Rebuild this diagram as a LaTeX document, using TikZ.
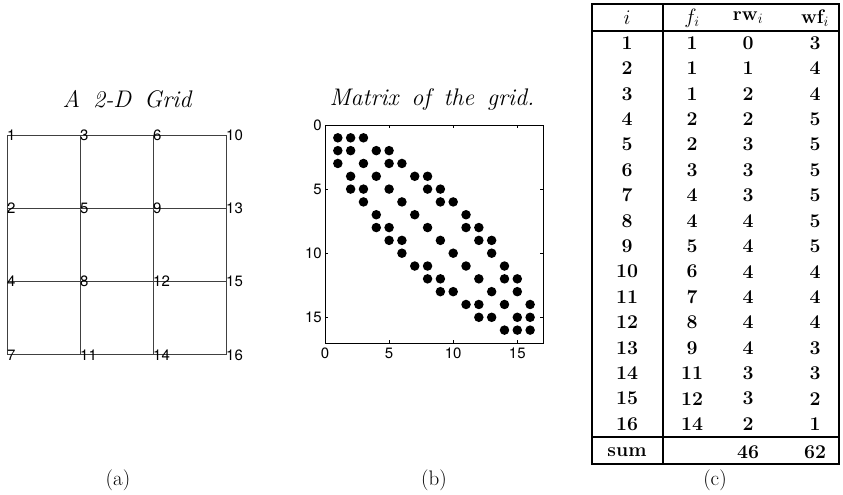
\documentclass[tikz,border=0pt]{standalone}
\usepackage{fontspec}
\newfontfamily\helv{TeX Gyre Heros}
\begin{document}
\begin{tikzpicture}[x=1pt,y=-1pt,
  gridline/.style={draw=black!75,line width=0.9pt},
  glabel/.style={font=\helv\fontsize{15}{15}\selectfont,anchor=west,inner sep=0pt},
  ticklab/.style={font=\helv\fontsize{15}{15}\selectfont,inner sep=1pt},
  dotm/.style={circle,fill=black,inner sep=0pt,minimum size=9.5pt},
  tcell/.style={font=\fontsize{19.5}{21}\selectfont\bfseries,inner sep=0pt,anchor=center},
  ttitle/.style={font=\fontsize{24}{26}\selectfont\itshape,inner sep=0pt},
  capt/.style={font=\fontsize{21}{23}\selectfont,inner sep=0pt},
  tline/.style={line width=1.1pt}]
\useasboundingbox (0,0) rectangle (843,495);
\def\wsp{\hspace{13pt}}

% ---------- (a) grid ----------
\node[ttitle] (gtitle) at (127,99) {A\wsp 2-D\wsp Grid};
\foreach \n/\c/\r in {1/0/0,3/1/0,6/2/0,10/3/0,2/0/1,5/1/1,9/2/1,13/3/1,4/0/2,8/1/2,12/2/2,15/3/2,7/0/3,11/1/3,14/2/3,16/3/3}
  \coordinate (n\n) at ({7+73*\c},{135+73.3*\r});
\foreach \a/\b in {1/3,3/6,6/10,2/5,5/9,9/13,4/8,8/12,12/15,7/11,11/14,14/16,1/2,2/4,4/7,3/5,5/8,8/11,6/9,9/12,12/14,10/13,13/15,15/16}
  \draw[gridline] (n\a) -- (n\b);
\foreach \n in {1,...,16}
  \node[glabel] (l\n) at (n\n) {\n};
\node[capt] (capa) at (118,480) {(a)};

% ---------- (b) matrix ----------
\node[ttitle] (mtitle) at (432,99) {Matrix\wsp of\wsp the\wsp grid.};
\node[draw,line width=0.8pt,minimum width=218pt,minimum height=218pt,inner sep=0pt,anchor=north west] (mbox) at (325,125) {};
\foreach \t in {0,5,10,15}{
  \draw[line width=0.6pt] ({325},{125+12.82*\t}) -- ({328},{125+12.82*\t});
  \draw[line width=0.6pt] ({543},{125+12.82*\t}) -- ({540},{125+12.82*\t});
  \draw[line width=0.6pt] ({325+12.82*\t},{343}) -- ({325+12.82*\t},{340});
  \draw[line width=0.6pt] ({325+12.82*\t},{125}) -- ({325+12.82*\t},{128});
  \node[ticklab,anchor=east] (yl\t) at (323,{125+12.82*\t}) {\t};
  \node[ticklab,anchor=north] (xl\t) at ({325+12.82*\t},347) {\t};
}
\foreach \i in {1,...,16}
  \node[dotm] (d\i-\i) at ({325+12.82*\i},{125+12.82*\i}) {};
\foreach \a/\b in {1/3,3/6,6/10,2/5,5/9,9/13,4/8,8/12,12/15,7/11,11/14,14/16,1/2,2/4,4/7,3/5,5/8,8/11,6/9,9/12,12/14,10/13,13/15,15/16}{
  \node[dotm] (d\a-\b) at ({325+12.82*\b},{125+12.82*\a}) {};
  \node[dotm] (d\b-\a) at ({325+12.82*\a},{125+12.82*\b}) {};
}
\node[capt] (capb) at (434,480) {(b)};

% ---------- (c) table ----------
\draw[tline] (592,4) rectangle (839,464);
\draw[tline] (592,31) -- (839,31);
\draw[tline] (592,437) -- (839,437);
\draw[tline] (663,4) -- (663,464);
\node[tcell] (hi) at (627,18) {$i$};
\node[tcell] (hf) at (692,18) {$f_i$};
\node[tcell] (hrw) at (748,18) {rw$_i$};
\node[tcell] (hwf) at (815,18) {wf$_i$};
\foreach \k/\f/\r/\w [count=\q from 0] in {1/1/0/3,2/1/1/4,3/1/2/4,4/2/2/5,5/2/3/5,6/3/3/5,7/4/3/5,8/4/4/5,9/5/4/5,10/6/4/4,11/7/4/4,12/8/4/4,13/9/4/3,14/11/3/3,15/12/3/2,16/14/2/1}{
  \node[tcell] (ti\k) at (627,{43+25.4*\q}) {\k};
  \node[tcell] (tf\k) at (692,{43+25.4*\q}) {\f};
  \node[tcell] (tr\k) at (748,{43+25.4*\q}) {\r};
  \node[tcell] (tw\k) at (815,{43+25.4*\q}) {\w};
}
\node[tcell] (sumi) at (627,452) {sum};
\node[tcell] (sumr) at (748,452) {46};
\node[tcell] (sumw) at (815,452) {62};
\node[capt] (capc) at (715,480) {(c)};
\end{tikzpicture}
\end{document}
